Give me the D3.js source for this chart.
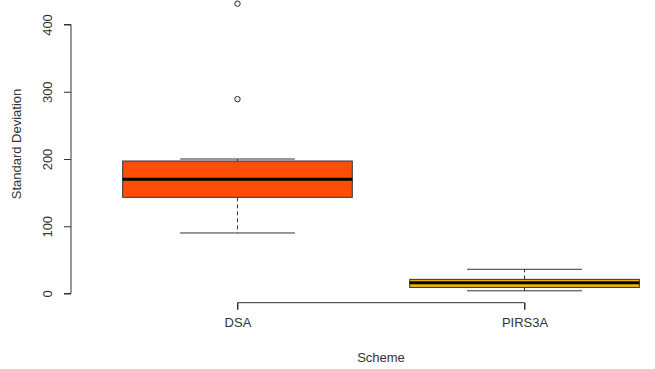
<!DOCTYPE html>
<html>
<head>
<meta charset="utf-8">
<script src="https://cdn.jsdelivr.net/npm/d3@7"></script>
<style>
  body { margin: 0; background: #fff; }
  text { font-family: "Liberation Sans", Arial, sans-serif; }
</style>
</head>
<body>
<div id="chart"></div>
<script>
  const w = 655, h = 369

  // box statistics
  const schemes = ["DSA", "PIRS3A"]
  const whiskerLow = [90, 4]
  const q1 = [143, 9]
  const median = [170, 16]
  const q3 = [197, 21]
  const whiskerHigh = [200, 36]
  const outliers = [[289, 431], []]
  const fills = ["#FC4E07", "#E7B800"]
  const yTicks = [0, 100, 200, 300, 400]

  // R style: groups at 1..n, xlim padded by 4%
  const x = d3.scaleLinear()
    .domain([0.42, schemes.length + 0.58])
    .range([71, 691])

  const y = d3.scaleLinear()
    .domain([0, 400])
    .range([293.5, 24.5])

  const boxW = x(1.4) - x(0.6)

  const svg = d3.select("#chart")
    .append("svg")
    .attr("width", w)
    .attr("height", h)

  // y axis
  const yAxis = svg.append("g")
    .attr("transform", "translate(71,0)")
    .call(d3.axisLeft(y).tickValues(yTicks).tickSize(7).tickFormat(d3.format("d")))
  yAxis.select(".domain").attr("d", `M-7,${y(0)}H0V${y(400)}H-7`).attr("stroke", "#333")
  yAxis.selectAll(".tick line").attr("stroke", "#333")
  yAxis.selectAll(".tick text")
    .attr("transform", "rotate(-90)")
    .attr("text-anchor", "middle")
    .attr("x", 0)
    .attr("y", -19)
    .attr("dy", 0)
    .attr("font-size", "13px")
    .attr("fill", "#333")

  svg.append("text")
    .attr("transform", "rotate(-90)")
    .attr("x", -144)
    .attr("y", 21)
    .attr("text-anchor", "middle")
    .attr("font-size", "13px")
    .attr("fill", "#333")
    .text("Standard Deviation")

  // x axis
  const xAxis = svg.append("g")
    .attr("transform", "translate(0,302.7)")
    .call(d3.axisBottom(x).tickValues(d3.range(1, schemes.length + 1)).tickSize(7)
      .tickFormat((d) => schemes[d - 1]))
  xAxis.select(".domain").attr("d", `M${x(1)},7V0H${x(schemes.length)}V7`).attr("stroke", "#333")
  xAxis.selectAll(".tick line").attr("stroke", "#333")
  xAxis.selectAll(".tick text")
    .attr("y", 24)
    .attr("dy", 0)
    .attr("font-size", "13px")
    .attr("fill", "#333")

  svg.append("text")
    .attr("x", 381)
    .attr("y", 362)
    .attr("text-anchor", "middle")
    .attr("font-size", "13px")
    .attr("fill", "#333")
    .text("Scheme")

  // boxes
  schemes.forEach((s, i) => {
    const cx = x(i + 1)
    const g = svg.append("g")

    // dashed whiskers
    g.append("line")
      .attr("x1", cx).attr("x2", cx)
      .attr("y1", y(q3[i])).attr("y2", y(whiskerHigh[i]))
      .attr("stroke", "#333").attr("stroke-dasharray", "4,3")
    g.append("line")
      .attr("x1", cx).attr("x2", cx)
      .attr("y1", y(q1[i])).attr("y2", y(whiskerLow[i]))
      .attr("stroke", "#333").attr("stroke-dasharray", "4,3")

    // staples
    ;[whiskerLow[i], whiskerHigh[i]].forEach((v) => {
      g.append("line")
        .attr("x1", cx - boxW / 4).attr("x2", cx + boxW / 4)
        .attr("y1", y(v)).attr("y2", y(v))
        .attr("stroke", "#333")
    })

    g.append("rect")
      .attr("x", cx - boxW / 2)
      .attr("y", y(q3[i]))
      .attr("width", boxW)
      .attr("height", y(q1[i]) - y(q3[i]))
      .attr("fill", fills[i])
      .attr("stroke", "#333")

    g.append("line")
      .attr("x1", cx - boxW / 2).attr("x2", cx + boxW / 2)
      .attr("y1", y(median[i])).attr("y2", y(median[i]))
      .attr("stroke", "#000").attr("stroke-width", 3)

    g.selectAll("circle")
      .data(outliers[i])
      .enter().append("circle")
        .attr("cx", cx)
        .attr("cy", (d) => y(d))
        .attr("r", 2.7)
        .attr("fill", "none")
        .attr("stroke", "#222")
  })
</script>
</body>
</html>
